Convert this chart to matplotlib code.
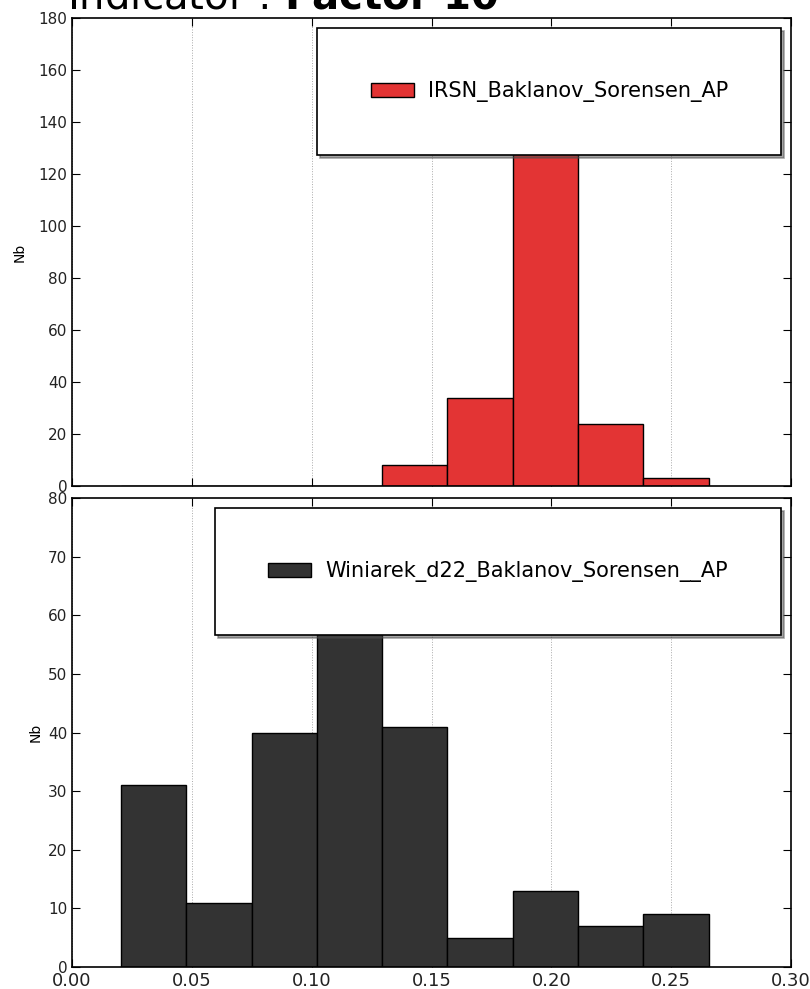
import numpy as np
import matplotlib.pyplot as plt

# bornes des classes de l'histogramme (9 classes)
bin_lo = 0.0204
bin_hi = 0.2656
n_bins = 9

# effectifs
irsn_counts = [0, 0, 0, 0, 8, 34, 148, 24, 3]
winiarek_counts = [31, 11, 40, 60, 41, 5, 13, 7, 9]

irsn_label = 'IRSN_Baklanov_Sorensen_AP'
winiarek_label = 'Winiarek_d22_Baklanov_Sorensen__AP'

xticks = [0.00, 0.05, 0.10, 0.15, 0.20, 0.25, 0.30]

edges = np.linspace(bin_lo, bin_hi, n_bins + 1)
width = edges[1] - edges[0]

fig = plt.figure(figsize=(8.10, 9.89), dpi=100)

ax1 = fig.add_axes([0.0889, 0.5086, 0.8877, 0.4732])
ax2 = fig.add_axes([0.0889, 0.0222, 0.8877, 0.4742])


def histo(ax, counts, color, label, ymax, ystep, pad):
    ax.bar(edges[:-1], counts, width=width, align='edge', color=color,
           edgecolor='black', linewidth=1.0, label=label, zorder=2)
    ax.set_xlim(0, 0.30)
    ax.set_ylim(0, ymax)
    ax.set_xticks(xticks)
    ax.set_yticks(np.arange(0, ymax + 1, ystep))
    ax.xaxis.grid(True, linestyle=':', color='#aaaaaa', linewidth=0.7, zorder=0)
    ax.tick_params(direction='in', top=True, right=True, length=6,
                   labelcolor='#222222')
    ax.tick_params(axis='y', labelsize=11)
    ax.tick_params(axis='x', labelsize=13)
    ax.set_ylabel('Nb', fontsize=10, labelpad=pad)
    for s in ax.spines.values():
        s.set_linewidth(1.2)
    leg = ax.legend(loc='upper right', fontsize=15, borderpad=2.55,
                    handlelength=2.07, handleheight=0.7, handletextpad=0.67,
                    borderaxespad=0.48, fancybox=False, shadow=True,
                    framealpha=1)
    leg.get_frame().set_edgecolor('black')
    leg.get_frame().set_linewidth(1.2)


histo(ax1, irsn_counts, '#e33434', irsn_label, 180, 20, 8)
histo(ax2, winiarek_counts, '#333333', winiarek_label, 80, 10, 4)
ax1.set_xticklabels([])

fig.text(0.083, 0.991, r'Indicator : $\mathbf{Factor\ 10}$', fontsize=29,
         va='baseline', ha='left')

fig.savefig('out.png', dpi=100)
